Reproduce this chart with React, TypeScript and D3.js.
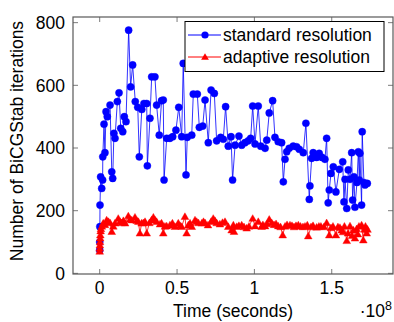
import React from "react";
import * as d3 from "d3";

// time in units of 1e8 seconds
const stdTime = [0.000,0.000,0.001,0.002,0.006,0.013,0.019,0.020,0.028,0.034,0.041,0.049,0.067,0.078,0.084,0.092,0.099,0.114,0.125,0.136,0.149,0.159,0.170,0.187,0.200,0.213,0.230,0.246,0.256,0.272,0.286,0.304,0.308,0.325,0.336,0.357,0.368,0.385,0.400,0.411,0.416,0.433,0.454,0.472,0.493,0.511,0.530,0.540,0.558,0.566,0.595,0.605,0.631,0.644,0.666,0.681,0.702,0.720,0.741,0.756,0.782,0.799,0.814,0.831,0.849,0.859,0.875,0.900,0.918,0.939,0.960,0.976,0.989,1.004,1.025,1.041,1.069,1.080,1.096,1.118,1.133,1.154,1.176,1.187,1.198,1.209,1.225,1.251,1.273,1.290,1.316,1.333,1.355,1.359,1.370,1.380,1.402,1.419,1.437,1.456,1.467,1.477,1.484,1.495,1.510,1.527,1.549,1.571,1.579,1.586,1.597,1.607,1.618,1.629,1.635,1.644,1.650,1.663,1.672,1.678,1.682,1.693,1.697,1.708,1.715,1.730];
const stdIter = [74,100,149,218,308,271,298,372,476,385,516,500,537,324,303,447,431,548,576,463,452,500,484,776,595,665,548,530,372,523,542,542,343,495,627,627,537,441,551,553,298,431,431,436,457,530,436,670,314,434,441,572,572,466,470,553,417,585,574,423,434,428,532,406,436,298,409,438,409,417,423,431,534,413,534,406,399,425,512,551,434,420,417,292,364,388,399,406,404,396,385,479,236,279,367,385,370,383,370,364,431,225,266,319,340,260,332,356,228,300,207,330,300,385,234,308,211,290,388,298,383,218,452,290,282,287];

const adaTime = [0.000,0.000,0.001,0.002,0.003,0.004,0.006,0.008,0.014,0.023,0.034,0.045,0.057,0.067,0.078,0.088,0.099,0.120,0.131,0.142,0.153,0.164,0.185,0.196,0.207,0.228,0.239,0.250,0.260,0.271,0.282,0.293,0.304,0.321,0.335,0.347,0.357,0.368,0.390,0.400,0.411,0.422,0.433,0.454,0.470,0.486,0.508,0.519,0.530,0.551,0.562,0.573,0.584,0.595,0.616,0.627,0.638,0.660,0.671,0.681,0.700,0.720,0.734,0.745,0.756,0.777,0.794,0.810,0.831,0.853,0.864,0.868,0.886,0.900,0.918,0.933,0.950,0.965,0.989,1.004,1.025,1.047,1.055,1.069,1.082,1.096,1.112,1.127,1.140,1.154,1.169,1.183,1.198,1.211,1.230,1.243,1.256,1.269,1.284,1.298,1.314,1.327,1.342,1.348,1.366,1.379,1.402,1.417,1.430,1.450,1.467,1.484,1.495,1.508,1.527,1.540,1.553,1.564,1.573,1.582,1.597,1.605,1.618,1.631,1.640,1.650,1.661,1.669,1.676,1.693,1.704,1.712,1.718,1.726,1.731];
const adaIter = [70,80,90,100,112,122,135,142,150,160,155,170,165,161,133,150,160,175,165,161,168,160,183,172,170,179,168,165,128,160,161,165,128,161,170,179,170,165,157,160,128,150,151,154,160,149,160,152,149,181,128,154,160,149,170,165,161,160,165,161,154,165,175,168,161,157,162,165,149,138,154,133,149,152,154,148,144,150,175,151,165,149,155,151,158,172,161,155,158,151,148,122,150,155,154,152,148,152,154,150,148,150,154,119,148,152,147,150,150,148,161,122,145,150,122,148,146,138,132,150,104,128,151,120,138,112,142,125,150,154,106,140,150,128,140];

const xTicks = [0, 0.5, 1, 1.5];
const xTickLabels = ["0", "0.5", "1", "1.5"];
const yTicks = [0, 200, 400, 600, 800];
const seriesNames = ["standard resolution", "adaptive resolution"];

const W = 394, H = 322;
const L = 73, R = 393, T = 17, B = 274;
const FONT = "'Liberation Sans', Arial, Helvetica, sans-serif";
const FS = 17.5;

export default function App() {
  const x = d3.scaleLinear().domain([-0.1726, 1.896]).range([L, R]);
  const y = d3.scaleLinear().domain([-2, 818]).range([B, T]);
  const std = stdTime.map((t, i) => [t, stdIter[i]] as [number, number]);
  const ada = adaTime.map((t, i) => [t, adaIter[i]] as [number, number]);
  const line = d3.line<[number, number]>().x(d => x(d[0])).y(d => y(d[1]));
  const tri = d3.symbol().type(d3.symbolTriangle).size(26)();
  const axisColor = "#595959";
  const blue = "#0000ff";
  const red = "#ff0000";
  return (
    <svg width={W} height={H} style={{ position: "fixed", left: 0, top: 0, background: "#fff" }} fontFamily={FONT}>
      <defs>
        <clipPath id="plotclip"><rect x={L} y={T} width={R - L} height={B - T} /></clipPath>
      </defs>
      <rect x={0} y={0} width={W} height={H} fill="#fff" />
      <g clipPath="url(#plotclip)">
        <path d={line(std) || ""} fill="none" stroke={blue} strokeWidth={1} strokeOpacity={0.8} />
        {std.map((d, i) => (
          <circle key={"s" + i} cx={x(d[0])} cy={y(d[1])} r={3.6} fill={blue} stroke={blue} strokeWidth={0.4} />
        ))}
        <path d={line(ada) || ""} fill="none" stroke={red} strokeWidth={1} strokeOpacity={0.8} />
        {ada.map((d, i) => (
          <path key={"a" + i} d={tri || ""} transform={`translate(${x(d[0])},${y(d[1]) + 0.6})`} fill={red} stroke={red} strokeWidth={0.4} />
        ))}
      </g>
      {xTicks.map((t, i) => (
        <g key={"xt" + i}>
          <line x1={x(t)} x2={x(t)} y1={B} y2={B - 5} stroke={axisColor} strokeWidth={0.8} />
          <line x1={x(t)} x2={x(t)} y1={T} y2={T + 5} stroke={axisColor} strokeWidth={0.8} />
          <text x={x(t)} y={294} textAnchor="middle" fontSize={FS} fill="#000">{xTickLabels[i]}</text>
        </g>
      ))}
      {yTicks.map((v, i) => (
        <g key={"yt" + i}>
          <line x1={L} x2={L + 5} y1={y(v)} y2={y(v)} stroke={axisColor} strokeWidth={0.8} />
          <line x1={R} x2={R - 5} y1={y(v)} y2={y(v)} stroke={axisColor} strokeWidth={0.8} />
          <text x={65} y={y(v)} dy="0.36em" textAnchor="end" fontSize={FS} fill="#000">{v}</text>
        </g>
      ))}
      <rect x={L} y={T} width={R - L} height={B - T} fill="none" stroke={axisColor} strokeWidth={1.2} />
      <text x={(L + R) / 2} y={316.5} textAnchor="middle" fontSize={FS} fill="#000">Time (seconds)</text>
      <text x={392} y={316.5} textAnchor="end" fontSize={FS} fill="#000">
        ·10<tspan dy={-7} fontSize={12.5}>8</tspan>
      </text>
      <text transform={`translate(22.5,141) rotate(-90)`} textAnchor="middle" fontSize={FS} fill="#000">Number of BiCGStab iterations</text>
      <g>
        <rect x={185} y={21.5} width={199} height={50} fill="#fff" stroke="#000" strokeWidth={1} />
        <line x1={188} x2={221} y1={35} y2={35} stroke={blue} strokeWidth={1} />
        <circle cx={205} cy={35} r={3.6} fill={blue} />
        <text x={223} y={35} dy="0.36em" fontSize={FS} fill="#000">{seriesNames[0]}</text>
        <line x1={188} x2={221} y1={57} y2={57} stroke={red} strokeWidth={1} />
        <path d={tri || ""} transform="translate(205,57.6)" fill={red} />
        <text x={223} y={57} dy="0.36em" fontSize={FS} fill="#000">{seriesNames[1]}</text>
      </g>
    </svg>
  );
}
